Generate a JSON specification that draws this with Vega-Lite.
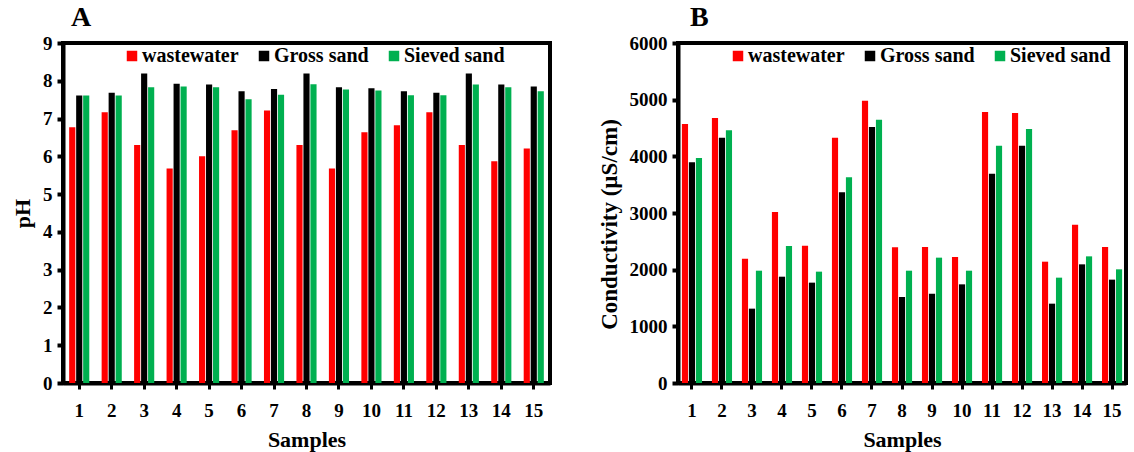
{
  "$schema": "https://vega.github.io/schema/vega-lite/v6.json",
  "padding": {"left": 9, "top": 2, "right": 2, "bottom": 2},
  "background": "white",
  "config": {
    "font": "Liberation Serif",
    "view": {"stroke": "black", "strokeWidth": 4},
    "axis": {
      "grid": false,
      "domainColor": "black",
      "domainWidth": 4,
      "tickColor": "black",
      "tickWidth": 4,
      "labelFont": "Liberation Serif",
      "labelFontWeight": "bold",
      "labelColor": "black",
      "labelFontSize": 19,
      "titleFont": "Liberation Serif",
      "titleFontWeight": "bold",
      "titleColor": "black",
      "titleFontSize": 22
    },
    "legend": {
      "labelFont": "Liberation Serif",
      "labelFontWeight": "bold",
      "labelFontSize": 20,
      "labelColor": "black",
      "symbolType": "square",
      "symbolSize": 110,
      "symbolStrokeWidth": 0,
      "labelOffset": 0,
      "columnPadding": 15,
      "gridAlign": "none",
      "padding": 0
    },
    "title": {"font": "Liberation Serif", "fontWeight": "bold", "fontSize": 28, "color": "black", "anchor": "start", "frame": "group"},
    "concat": {"spacing": 44}
  },
  "data": {"values": [
    {"sample": 1, "type": "wastewater", "pH": 6.77, "cond": 4571},
    {"sample": 1, "type": "Gross sand", "pH": 7.61, "cond": 3894},
    {"sample": 1, "type": "Sieved sand", "pH": 7.61, "cond": 3971},
    {"sample": 2, "type": "wastewater", "pH": 7.17, "cond": 4676},
    {"sample": 2, "type": "Gross sand", "pH": 7.68, "cond": 4329},
    {"sample": 2, "type": "Sieved sand", "pH": 7.61, "cond": 4459},
    {"sample": 3, "type": "wastewater", "pH": 6.30, "cond": 2194},
    {"sample": 3, "type": "Gross sand", "pH": 8.19, "cond": 1312},
    {"sample": 3, "type": "Sieved sand", "pH": 7.83, "cond": 1982},
    {"sample": 4, "type": "wastewater", "pH": 5.68, "cond": 3018},
    {"sample": 4, "type": "Gross sand", "pH": 7.92, "cond": 1876},
    {"sample": 4, "type": "Sieved sand", "pH": 7.85, "cond": 2418},
    {"sample": 5, "type": "wastewater", "pH": 6.00, "cond": 2424},
    {"sample": 5, "type": "Gross sand", "pH": 7.90, "cond": 1771},
    {"sample": 5, "type": "Sieved sand", "pH": 7.83, "cond": 1965},
    {"sample": 6, "type": "wastewater", "pH": 6.69, "cond": 4329},
    {"sample": 6, "type": "Gross sand", "pH": 7.72, "cond": 3365},
    {"sample": 6, "type": "Sieved sand", "pH": 7.51, "cond": 3629},
    {"sample": 7, "type": "wastewater", "pH": 7.21, "cond": 4982},
    {"sample": 7, "type": "Gross sand", "pH": 7.78, "cond": 4518},
    {"sample": 7, "type": "Sieved sand", "pH": 7.63, "cond": 4647},
    {"sample": 8, "type": "wastewater", "pH": 6.30, "cond": 2394},
    {"sample": 8, "type": "Gross sand", "pH": 8.19, "cond": 1518},
    {"sample": 8, "type": "Sieved sand", "pH": 7.91, "cond": 1982},
    {"sample": 9, "type": "wastewater", "pH": 5.68, "cond": 2400},
    {"sample": 9, "type": "Gross sand", "pH": 7.83, "cond": 1576},
    {"sample": 9, "type": "Sieved sand", "pH": 7.77, "cond": 2212},
    {"sample": 10, "type": "wastewater", "pH": 6.64, "cond": 2224},
    {"sample": 10, "type": "Gross sand", "pH": 7.80, "cond": 1741},
    {"sample": 10, "type": "Sieved sand", "pH": 7.74, "cond": 1982},
    {"sample": 11, "type": "wastewater", "pH": 6.82, "cond": 4782},
    {"sample": 11, "type": "Gross sand", "pH": 7.72, "cond": 3694},
    {"sample": 11, "type": "Sieved sand", "pH": 7.62, "cond": 4188},
    {"sample": 12, "type": "wastewater", "pH": 7.17, "cond": 4765},
    {"sample": 12, "type": "Gross sand", "pH": 7.68, "cond": 4188},
    {"sample": 12, "type": "Sieved sand", "pH": 7.62, "cond": 4482},
    {"sample": 13, "type": "wastewater", "pH": 6.30, "cond": 2141},
    {"sample": 13, "type": "Gross sand", "pH": 8.19, "cond": 1400},
    {"sample": 13, "type": "Sieved sand", "pH": 7.90, "cond": 1859},
    {"sample": 14, "type": "wastewater", "pH": 5.87, "cond": 2794},
    {"sample": 14, "type": "Gross sand", "pH": 7.90, "cond": 2094},
    {"sample": 14, "type": "Sieved sand", "pH": 7.83, "cond": 2235},
    {"sample": 15, "type": "wastewater", "pH": 6.21, "cond": 2400},
    {"sample": 15, "type": "Gross sand", "pH": 7.85, "cond": 1824},
    {"sample": 15, "type": "Sieved sand", "pH": 7.72, "cond": 2006}
  ]},
  "resolve": {"scale": {"color": "independent"}, "legend": {"color": "independent"}},
  "hconcat": [
    {
      "title": {"text": "A", "dx": 8, "offset": 2},
      "width": 487,
      "height": 340,
      "mark": {"type": "bar"},
      "encoding": {
        "x": {"field": "sample", "type": "ordinal", "title": "Samples",
              "scale": {"paddingInner": 0.38, "paddingOuter": 0.19},
              "axis": {"labelAngle": 0, "tickSize": 6, "tickWidth": 3, "labelPadding": 12, "titlePadding": 9}},
        "xOffset": {"field": "type", "type": "nominal", "sort": ["wastewater", "Gross sand", "Sieved sand"], "scale": {"paddingInner": 0.12}},
        "y": {"field": "pH", "type": "quantitative", "title": "pH",
              "scale": {"domain": [0, 9]},
              "axis": {"values": [0,1,2,3,4,5,6,7,8,9], "format": "d", "tickSize": 6, "labelPadding": 5, "titlePadding": 8}},
        "color": {"field": "type", "type": "nominal", "title": null,
                  "scale": {"domain": ["wastewater", "Gross sand", "Sieved sand"], "range": ["#FF0000", "#000000", "#00B050"]},
                  "legend": {"orient": "none", "direction": "horizontal", "columns": 3, "legendX": 59, "legendY": 3}}
      }
    },
    {
      "title": {"text": "B", "dx": 12, "offset": 2},
      "width": 448,
      "height": 340,
      "mark": {"type": "bar"},
      "encoding": {
        "x": {"field": "sample", "type": "ordinal", "title": "Samples",
              "scale": {"paddingInner": 0.33, "paddingOuter": 0.13},
              "axis": {"labelAngle": 0, "tickSize": 6, "tickWidth": 3, "labelPadding": 12, "titlePadding": 9}},
        "xOffset": {"field": "type", "type": "nominal", "sort": ["wastewater", "Gross sand", "Sieved sand"], "scale": {"paddingInner": 0.12}},
        "y": {"field": "cond", "type": "quantitative", "title": "Conductivity (µS/cm)",
              "scale": {"domain": [0, 6000]},
              "axis": {"values": [0,1000,2000,3000,4000,5000,6000], "format": "d", "tickSize": 6, "labelPadding": 5, "titlePadding": 8, "titleFontSize": 23, "titleY": 181}},
        "color": {"field": "type", "type": "nominal", "title": null,
                  "scale": {"domain": ["wastewater", "Gross sand", "Sieved sand"], "range": ["#FF0000", "#000000", "#00B050"]},
                  "legend": {"orient": "none", "direction": "horizontal", "columns": 3, "legendX": 50, "legendY": 3}}
      }
    }
  ]
}
